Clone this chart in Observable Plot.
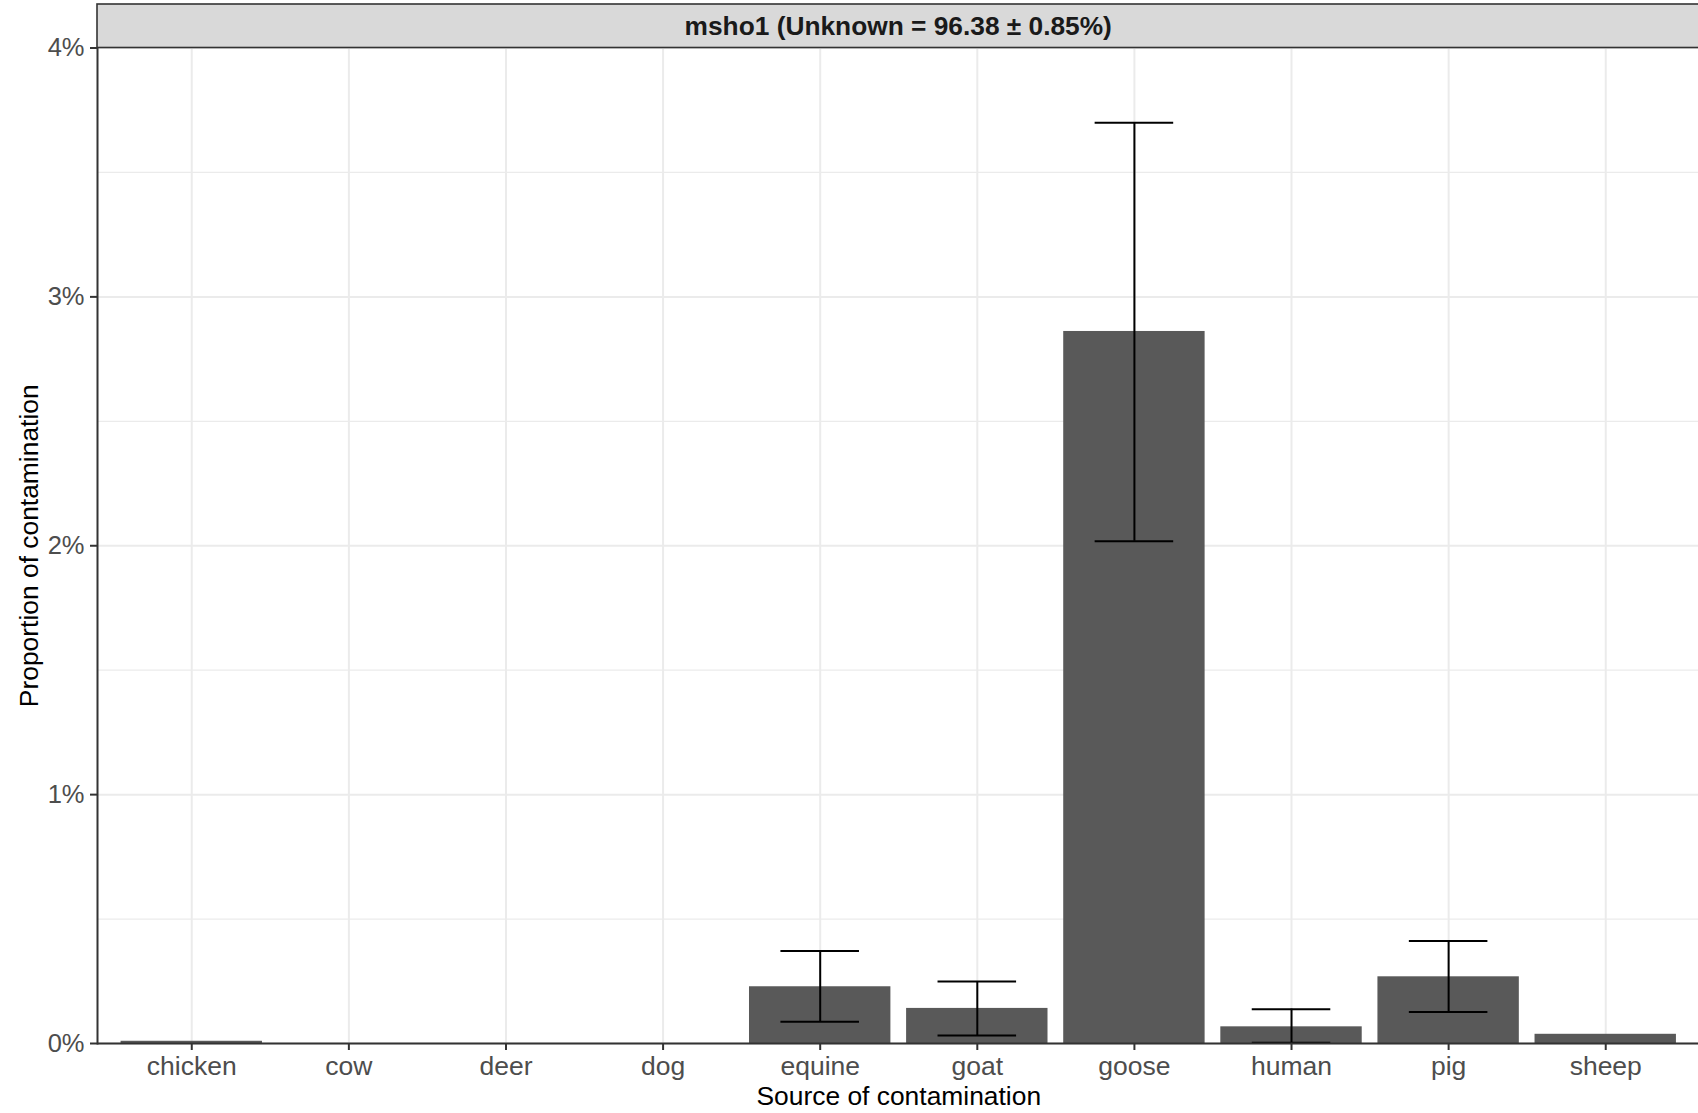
<!DOCTYPE html>
<html>
<head>
<meta charset="utf-8">
<script src="https://cdn.jsdelivr.net/npm/d3@7"></script>
<script src="https://cdn.jsdelivr.net/npm/@observablehq/plot@0.6"></script>
<style>
  html, body { margin: 0; padding: 0; background: white; }
  #chart { width: 1698px; height: 1113px; overflow: hidden; }
</style>
</head>
<body>
<div id="chart"></div>
<script>
// Source-tracking estimates for sample msho1 (percent of total contamination)
const sources    = ["chicken", "cow", "deer", "dog", "equine", "goat", "goose", "human", "pig", "sheep"];
const proportion = [0.009, 0, 0, 0, 0.228, 0.141, 2.861, 0.067, 0.268, 0.037];
const lower      = [null, null, null, null, 0.087, 0.032, 2.018, 0.003, 0.127, null];
const upper      = [null, null, null, null, 0.372, 0.249, 3.700, 0.138, 0.412, null];
const majorTicks = [0, 1, 2, 3, 4];
const minorTicks = [0.5, 1.5, 2.5, 3.5];
const stripLabel = "msho1 (Unknown = 96.38 ± 0.85%)";
const xTitle = "Source of contamination";
const yTitle = "Proportion of contamination";

const rows = sources.map((s, i) => ({source: s, value: proportion[i], lo: lower[i], hi: upper[i]}));
const errs = rows.filter(d => d.lo != null && d.hi != null);

const width = 1698, height = 1113;
const mL = 97, mR = -1.5, mT = 47.5, mB = 70;
const padIn = 0.1, padOut = 0.15;
const step = (width - mL - mR) / (sources.length - padIn + 2 * padOut);
const capInset = 0.2 * step; // caps span half a category step

const font = "'Liberation Sans', Arial, sans-serif";

const chart = Plot.plot({
  width, height,
  marginLeft: mL, marginRight: mR, marginTop: mT, marginBottom: mB,
  style: {fontFamily: font, background: "white", overflow: "visible"},
  x: {domain: sources, paddingInner: padIn, paddingOuter: padOut, round: false, label: null},
  y: {domain: [0, 4], label: null},
  marks: [
    Plot.gridY(minorTicks, {stroke: "#EBEBEB", strokeOpacity: 1, strokeWidth: 1.2}),
    Plot.gridY(majorTicks, {stroke: "#EBEBEB", strokeOpacity: 1, strokeWidth: 2}),
    Plot.gridX({stroke: "#EBEBEB", strokeOpacity: 1, strokeWidth: 2}),
    Plot.barY(rows, {x: "source", y: "value", fill: "#595959"}),
    Plot.ruleX(errs, {x: "source", y1: "lo", y2: "hi", stroke: "black", strokeWidth: 2}),
    Plot.tickY(errs, {x: "source", y: "lo", stroke: "black", strokeWidth: 2, insetLeft: capInset, insetRight: capInset}),
    Plot.tickY(errs, {x: "source", y: "hi", stroke: "black", strokeWidth: 2, insetLeft: capInset, insetRight: capInset}),
    Plot.ruleY([0], {stroke: "#333333", strokeWidth: 2}),
    Plot.frame({anchor: "left", stroke: "#333333", strokeWidth: 2}),
    Plot.axisY(majorTicks, {
      tickSize: 7, tickPadding: 6, strokeWidth: 2, stroke: "#333333", fill: "#4D4D4D",
      fontSize: 25.5, tickFormat: d => d + "%", label: null
    }),
    Plot.axisX({
      tickSize: 7, tickPadding: 5.5, strokeWidth: 2, stroke: "#333333", fill: "#4D4D4D",
      fontSize: 26.5, label: null
    }),
    Plot.text([xTitle], {frameAnchor: "bottom", dy: 61, lineAnchor: "bottom", fontSize: 26.4, fill: "black"}),
    Plot.text([yTitle], {frameAnchor: "left", textAnchor: "middle", rotate: -90, dx: -60, lineAnchor: "bottom", fontSize: 26.4, fill: "black"})
  ]
});

// Facet strip above the panel
const svg = d3.select(chart);
const strip = svg.append("g");
strip.append("rect")
  .attr("x", mL)
  .attr("y", 4)
  .attr("width", width - mL + 4)
  .attr("height", mT - 4)
  .attr("fill", "#D9D9D9")
  .attr("stroke", "#333333")
  .attr("stroke-width", 1.6);
strip.append("text")
  .attr("x", mL + (width - mR - mL) / 2)
  .attr("y", 4 + (mT - 4) / 2)
  .attr("text-anchor", "middle")
  .attr("dominant-baseline", "central")
  .attr("font-family", font)
  .attr("font-weight", "bold")
  .attr("font-size", 26.3)
  .attr("fill", "#1A1A1A")
  .text(stripLabel);

document.getElementById("chart").appendChild(chart);
</script>
</body>
</html>
